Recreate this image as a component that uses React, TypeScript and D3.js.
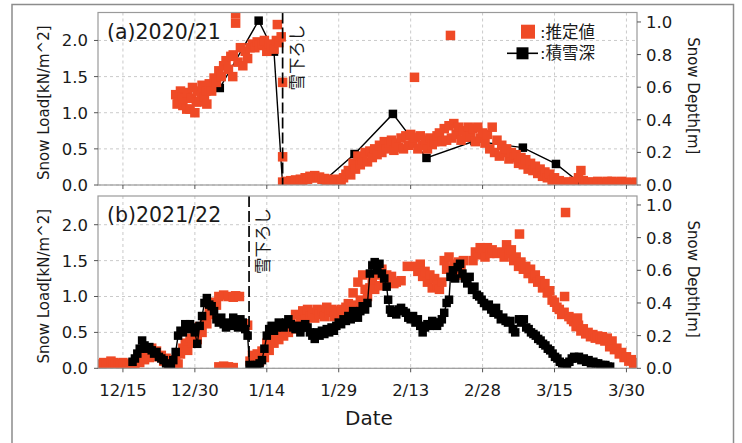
import * as d3 from "d3";

type Pt = [number, number];

// x is in days counted from 12/15
const tickDays = [0, 15, 30, 45, 60, 75, 90, 105];
const tickLabels = ["12/15", "12/30", "1/14", "1/29", "2/13", "2/28", "3/15", "3/30"];
const loadTicks = [0, 0.5, 1.0, 1.5, 2.0];
const depthTicks = [0, 0.2, 0.4, 0.6, 0.8, 1.0];

// (a) 2020/21 estimated snow load [kN/m^2]
const estA: Pt[] = [
  [11, 1.25], [11.3, 1.12], [11.5, 1.15], [12, 1.3], [12.3, 1.22], [12.5, 1.1], [13, 1.2], [13.3, 1.05],
  [13.5, 1.28], [14, 1.05], [14.3, 1.2], [14.5, 1.35], [15, 1.0], [15.3, 1.15], [15.5, 1.3], [16, 1.15],
  [16.3, 1.25], [16.5, 1.38], [17, 1.22], [17.3, 1.3], [17.5, 1.12], [18, 1.4], [18.5, 1.3],
  [19, 1.48], [19.5, 1.42], [20, 1.58], [20.5, 1.5], [21, 1.65], [21.5, 1.72], [22, 1.6], [22.5, 1.78],
  [22.9, 1.5], [23, 1.8], [23.5, 2.37], [23.5, 2.24], [24, 1.7], [24.5, 1.9], [25, 1.65], [25.5, 1.85],
  [26, 1.75], [26.5, 1.9], [27, 1.95], [27.5, 1.9], [28, 1.98], [28.5, 1.93], [29, 1.95], [29.5, 2.0],
  [30, 1.85], [30.5, 1.95], [31, 1.92], [31.5, 1.88], [32, 2.0], [32.2, 2.22], [32.5, 1.97], [33, 2.05],
  [33.3, 1.42], [33.3, 0.39], [33.3, 0.04],
  [33.6, 0.03], [34, 0.05], [34.5, 0.02], [35, 0.06], [35.5, 0.04], [36, 0.07], [36.5, 0.05], [37, 0.08],
  [37.5, 0.06], [38, 0.1], [38.5, 0.08], [39, 0.12], [39.5, 0.1], [40, 0.13], [40.5, 0.1], [41, 0.11],
  [41.5, 0.08], [42, 0.09], [42.5, 0.06], [43, 0.08], [43.5, 0.06], [44, 0.07], [44.5, 0.05], [45, 0.08],
  [45.5, 0.06], [46, 0.1], [46.5, 0.15], [47, 0.2], [47.5, 0.14], [48, 0.3], [48.5, 0.22], [49, 0.4],
  [49.5, 0.28], [50, 0.35], [50.5, 0.45], [51, 0.32], [51.5, 0.47], [52, 0.38], [52.5, 0.5], [53, 0.42],
  [53.5, 0.55], [54, 0.45], [54.5, 0.6], [55, 0.5], [55.5, 0.58], [56, 0.62], [56.5, 0.48], [57, 0.58],
  [57.5, 0.52], [58, 0.65], [58.5, 0.5], [59, 0.68], [59.5, 0.55], [60, 0.7], [60.5, 0.58], [61, 0.66],
  [61.5, 0.5], [62, 0.68], [62.5, 0.55], [63, 0.62], [63.5, 0.5], [64, 0.65], [64.5, 0.56], [65, 0.6],
  [65.5, 0.68], [66, 0.72], [66.5, 0.6], [67, 0.78], [67.5, 0.62], [68, 0.82], [68.5, 0.65], [69, 0.85],
  [69.5, 0.7], [70, 0.8], [70.5, 0.62], [71, 0.75], [71.5, 0.66], [72, 0.8], [72.5, 0.68], [73, 0.78],
  [73.5, 0.6], [74, 0.8], [74.5, 0.65], [75, 0.72], [75.5, 0.58], [76, 0.7], [76.5, 0.5], [77, 0.8],
  [77.5, 0.45], [78, 0.62], [78.5, 0.4], [79, 0.55], [79.5, 0.45], [80, 0.5], [80.5, 0.36], [81, 0.45],
  [81.5, 0.38], [82, 0.42], [82.5, 0.3], [83, 0.38], [83.5, 0.28], [84, 0.35], [84.5, 0.22], [85, 0.3],
  [85.5, 0.2], [86, 0.26], [86.5, 0.16], [87, 0.22], [87.5, 0.12], [88, 0.18], [88.5, 0.1], [89, 0.15],
  [89.5, 0.06], [90, 0.1], [90.5, 0.04], [91, 0.06], [91.5, 0.03], [92, 0.04], [92.5, 0.02], [93, 0.04],
  [93.5, 0.03], [94, 0.05], [95, 0.1], [95.5, 0.2], [96, 0.06], [96.5, 0.03], [97, 0.04], [98, 0.04],
  [99, 0.05], [100, 0.04], [101, 0.05], [102, 0.05], [103, 0.04], [104, 0.05], [105, 0.04], [106, 0.03],
  [107, 0.04],
  [60.8, 1.49], [68.3, 2.07],
];

// (a) 2020/21 measured snow depth [m]
const depthA: Pt[] = [
  [20.2, 0.595], [28.3, 1.008], [31.5, 0.818], [33.3, 0.0], [42.1, 0.03], [48.3, 0.19], [56.3, 0.436],
  [63.3, 0.166], [73.3, 0.27], [83.4, 0.229], [90.3, 0.129], [95, 0.02],
];

// (b) 2021/22 estimated snow load [kN/m^2]
const estB: Pt[] = [
  [-5, 0.06], [-4.5, 0.03], [-4, 0.08], [-3.5, 0.05], [-3, 0.07], [-2.5, 0.1], [-2, 0.08], [-1.5, 0.05],
  [-1, 0.07], [-0.5, 0.04], [0, 0.08], [0.5, 0.05], [1, 0.06], [1.5, 0.03], [2, 0.07], [2.5, 0.05],
  [3, 0.12], [3.5, 0.08], [4, 0.16], [4.5, 0.12], [5, 0.22], [5.5, 0.15], [6, 0.28], [6.5, 0.2],
  [7, 0.24], [7.5, 0.16], [8, 0.18], [8.5, 0.1], [9, 0.14], [9.5, 0.06], [10, 0.1], [10.5, 0.04],
  [11, 0.12], [11.5, 0.06], [12, 0.2], [12.5, 0.28], [13, 0.35], [13.5, 0.25], [14, 0.42], [14.5, 0.35],
  [15, 0.5], [15.5, 0.4], [16, 0.58], [16.5, 0.5], [17, 0.7], [17.5, 0.62], [18, 0.82], [18.5, 0.75],
  [19, 0.92], [19.5, 0.88], [20, 1.0], [21, 1.02], [22, 1.0], [23, 0.99], [23.5, 1.01], [24.3, 1.0],
  [20, 0.02], [21, 0.03], [22, 0.02], [23, 0.01],
  [25.3, 0.62], [26, 0.6], [26.5, 0.1],
  [27, 0.18], [27.5, 0.12], [28, 0.2], [28.5, 0.1], [29, 0.24], [29.5, 0.15], [30, 0.35], [30.5, 0.25],
  [31, 0.45], [31.5, 0.35], [32, 0.5], [32.5, 0.4], [33, 0.55], [33.5, 0.45], [34, 0.6], [34.5, 0.5],
  [35, 0.65], [35.5, 0.55], [36, 0.75], [36.5, 0.6], [37, 0.72], [37.5, 0.8], [38, 0.68], [38.5, 0.82],
  [39, 0.72], [39.5, 0.78], [40, 0.7], [40.5, 0.82], [41, 0.75], [41.5, 0.8], [42, 0.72], [42.5, 0.85],
  [43, 0.78], [43.5, 0.82], [44, 0.72], [44.5, 0.8], [45, 0.76], [45.5, 0.82], [46, 0.78], [46.5, 0.85],
  [47, 0.9], [47.5, 0.8], [48, 1.05], [48.5, 0.88], [49, 1.2], [49.5, 0.95], [50, 1.3], [50.5, 1.1],
  [51, 1.0], [51.5, 1.12], [52, 1.2], [52.5, 1.1], [53, 1.3], [53.5, 1.15], [54, 1.38], [54.5, 1.22],
  [55, 1.3], [55.5, 1.2], [56, 1.28], [56.5, 1.18], [57, 1.2], [58, 1.22], [59.3, 1.42],
  [61, 1.42], [61.5, 1.35], [62, 1.45], [62.5, 1.28], [63, 1.35], [63.5, 1.2], [64, 1.3], [64.5, 1.12],
  [65, 1.25], [65.5, 1.15], [66, 1.1], [66.5, 1.2], [67, 1.5], [67.5, 1.38], [68, 1.55], [68.5, 1.35],
  [69, 1.45], [69.5, 1.3], [70, 1.48], [70.5, 1.38], [71, 1.5], [73, 1.5], [73.5, 1.62], [74, 1.58],
  [74.5, 1.68], [75, 1.65], [75.5, 1.55], [76, 1.68], [76.5, 1.6], [77, 1.65], [78, 1.6], [79, 1.62],
  [79.5, 1.55], [80, 1.72], [80.5, 1.6], [81, 1.65], [81.5, 1.5], [82, 1.55], [82.5, 1.42], [82.7, 1.87],
  [83, 1.48], [83.5, 1.38], [84, 1.42], [84.5, 1.32], [85, 1.38], [85.5, 1.25], [86, 1.3], [86.5, 1.2],
  [87, 1.22], [87.5, 1.12], [88, 1.18], [88.5, 1.05], [89, 1.08], [89.5, 0.95], [90, 0.92], [90.5, 0.85],
  [91, 0.82], [91.5, 0.75], [92, 0.78], [92.1, 1.0], [92.3, 2.17], [93, 0.72], [93.5, 0.68], [94, 0.65],
  [94.5, 0.58], [94.8, 0.7], [95, 0.6], [95.5, 0.52], [96, 0.55], [96.5, 0.48], [97, 0.5], [97.5, 0.44],
  [98, 0.47], [98.5, 0.42], [99, 0.45], [99.5, 0.4], [100, 0.44], [100.5, 0.38], [101, 0.42], [101.5, 0.3],
  [102, 0.38], [102.5, 0.26], [103, 0.28], [103.5, 0.2], [104, 0.22], [104.5, 0.15], [105, 0.16],
  [105.5, 0.1], [106, 0.12], [106.5, 0.07], [107, 0.08],
];

// (b) 2021/22 measured snow depth [m]
const depthB: Pt[] = [
  [2, 0.04], [2.5, 0.06], [3, 0.09], [3.5, 0.12], [4, 0.17], [4.5, 0.14], [5, 0.12], [5.5, 0.13],
  [6, 0.11], [6.5, 0.09], [7, 0.1], [7.5, 0.07], [8, 0.06], [8.5, 0.05], [9, 0.03], [9.5, 0.02],
  [10, 0.02], [10.5, 0.05], [11, 0.1], [11.5, 0.2], [12, 0.23], [12.5, 0.22], [13, 0.27], [13.5, 0.24],
  [14, 0.27], [14.5, 0.25], [15, 0.22], [15.5, 0.15], [16, 0.26], [16.5, 0.32], [17, 0.4], [17.5, 0.43],
  [18, 0.39], [18.5, 0.38], [19, 0.35], [19.5, 0.3], [20, 0.28], [20.5, 0.31], [21, 0.27], [21.5, 0.25],
  [22, 0.28], [22.5, 0.26], [23, 0.31], [23.5, 0.29], [24, 0.25], [24.5, 0.3], [25, 0.28], [25.5, 0.24],
  [26, 0.2], [26.4, 0.02], [27, 0.01], [27.5, 0.02], [28, 0.02], [28.5, 0.03], [29, 0.05], [29.5, 0.12],
  [30, 0.2], [30.5, 0.24], [31, 0.26], [31.5, 0.23], [32, 0.25], [32.5, 0.28], [33, 0.27], [33.5, 0.25],
  [34, 0.28], [34.5, 0.3], [35, 0.27], [35.5, 0.25], [36, 0.24], [36.5, 0.26], [37, 0.22], [37.5, 0.25],
  [38, 0.27], [38.5, 0.25], [39, 0.22], [39.5, 0.2], [40, 0.18], [40.5, 0.22], [41, 0.2], [41.5, 0.23],
  [42, 0.21], [42.5, 0.24], [43, 0.22], [43.5, 0.25], [44, 0.23], [44.5, 0.26], [45, 0.28], [45.5, 0.27],
  [46, 0.3], [46.5, 0.29], [47, 0.32], [47.5, 0.3], [48, 0.35], [48.5, 0.33], [49, 0.31], [49.5, 0.35],
  [50, 0.38], [50.5, 0.36], [51, 0.4], [51.5, 0.58], [52, 0.63], [52.5, 0.65], [53, 0.6], [53.5, 0.64],
  [54, 0.58], [54.5, 0.55], [55, 0.5], [55.3, 0.42], [55.7, 0.36], [56, 0.34], [56.5, 0.35], [57, 0.33],
  [57.5, 0.36], [58, 0.37], [58.5, 0.35], [59, 0.34], [59.5, 0.31], [60, 0.3], [60.5, 0.32], [61, 0.28],
  [61.5, 0.3], [62, 0.26], [62.5, 0.22], [63, 0.25], [63.5, 0.27], [64, 0.26], [64.5, 0.29], [65, 0.28],
  [65.5, 0.26], [66, 0.28], [66.5, 0.3], [67, 0.34], [67.5, 0.4], [68, 0.42], [68.3, 0.56], [68.8, 0.6],
  [69.3, 0.55], [69.8, 0.62], [70.3, 0.64], [70.8, 0.58], [71.3, 0.55], [71.8, 0.52], [72.3, 0.56],
  [72.8, 0.48], [73.3, 0.5], [73.8, 0.45], [74.3, 0.44], [74.8, 0.42], [75.3, 0.4], [75.8, 0.38],
  [76.3, 0.39], [76.8, 0.36], [77.3, 0.34], [77.8, 0.37], [78.3, 0.33], [78.8, 0.3], [79.3, 0.31],
  [79.8, 0.29], [80.3, 0.28], [80.8, 0.29], [81.3, 0.24], [81.8, 0.22], [82.6, 0.3], [83.1, 0.28],
  [83.6, 0.3], [84.1, 0.25], [84.6, 0.24], [85.1, 0.22], [85.6, 0.21], [86.1, 0.2], [86.6, 0.18],
  [87.1, 0.17], [87.6, 0.15], [88.1, 0.14], [88.6, 0.12], [89.1, 0.11], [89.6, 0.09], [90.1, 0.07],
  [90.6, 0.06], [91.1, 0.04], [91.6, 0.03], [92.1, 0.03], [92.6, 0.02], [93.1, 0.04], [93.6, 0.06],
  [94.1, 0.07], [94.6, 0.06], [95.1, 0.07], [95.6, 0.05], [96.1, 0.06], [96.6, 0.04], [97.1, 0.05],
  [97.6, 0.03], [98.1, 0.04], [98.6, 0.03], [99.1, 0.03], [99.6, 0.02], [100.1, 0.02], [100.6, 0.02],
  [101.1, 0.01], [101.6, 0.01],
];

const removalA = 33.3;
const removalB = 26.3;

const ORANGE = "#ef4a26";
const SPINE = "#9a9a9a";
const TEXT = "#1a1a1a";
const FONT = "'DejaVu Sans', 'Noto Sans CJK JP', sans-serif";

const x = d3.scaleLinear().domain([-5.2, 107.2]).range([98, 637]);

function Panel({ id, top, bottom, loadMax, depthMax, est, depth, removal, title, estOnTop, showXLabels, legend }) {
  const yL = d3.scaleLinear().domain([0, loadMax]).range([bottom, top]);
  const yR = d3.scaleLinear().domain([0, depthMax]).range([bottom, top]);
  const [x0, x1] = x.range();
  const line = d3.line<Pt>().x((d) => x(d[0])).y((d) => yR(d[1]));
  const ms = 9.5; // orange marker
  const bs = 8.5; // black marker
  const mid = (top + bottom) / 2;

  const estMarks = (
    <g fill={ORANGE}>
      {est.map((d, i) => (
        <rect key={i} x={x(d[0]) - ms / 2} y={yL(d[1]) - ms / 2} width={ms} height={ms} />
      ))}
    </g>
  );
  const depthMarks = (
    <g>
      <path d={line(depth) || ""} fill="none" stroke="#000" strokeWidth={1.4} />
      {depth.map((d, i) => (
        <rect key={i} x={x(d[0]) - bs / 2} y={yR(d[1]) - bs / 2} width={bs} height={bs} fill="#000" />
      ))}
    </g>
  );

  return (
    <g>
      <defs>
        <clipPath id={id}>
          <rect x={x0} y={top} width={x1 - x0} height={bottom - top} />
        </clipPath>
      </defs>
      {/* grid */}
      <g stroke="#c4c4c4" strokeWidth={0.9} strokeDasharray="3,3">
        {tickDays.map((t) => (
          <line key={t} x1={x(t)} x2={x(t)} y1={top} y2={bottom} />
        ))}
        {loadTicks.map((t) => (
          <line key={t} x1={x0} x2={x1} y1={yL(t)} y2={yL(t)} />
        ))}
      </g>
      <g clipPath={`url(#${id})`}>
        {estOnTop ? depthMarks : estMarks}
        {estOnTop ? estMarks : depthMarks}
        <line x1={x(removal)} x2={x(removal)} y1={top} y2={bottom} stroke="#000" strokeWidth={1.7} strokeDasharray="11,4" />
      </g>
      <text
        transform={`translate(${x(removal) + 20},${top + 78}) rotate(-90)`}
        fontSize={16.5}
        fill={TEXT}
      >
        雪下ろし
      </text>
      <text x={107} y={top + 26} fontSize={20.5} fill={TEXT}>
        {title}
      </text>
      {/* spines */}
      <rect x={x0} y={top} width={x1 - x0} height={bottom - top} fill="none" stroke={SPINE} strokeWidth={1.2} />
      {/* ticks */}
      <g stroke="#555" strokeWidth={1}>
        {loadTicks.map((t) => (
          <line key={t} x1={x0 - 4} x2={x0} y1={yL(t)} y2={yL(t)} />
        ))}
        {depthTicks.map((t) => (
          <line key={t} x1={x1} x2={x1 + 4} y1={yR(t)} y2={yR(t)} />
        ))}
        {tickDays.map((t) => (
          <line key={t} x1={x(t)} x2={x(t)} y1={bottom} y2={bottom + 4} />
        ))}
      </g>
      <g fontSize={16.5} fill={TEXT}>
        {loadTicks.map((t) => (
          <text key={t} x={88} y={yL(t)} dy="0.36em" textAnchor="end">
            {d3.format(".1f")(t)}
          </text>
        ))}
        {depthTicks.map((t) => (
          <text key={t} x={646} y={yR(t)} dy="0.36em">
            {d3.format(".1f")(t)}
          </text>
        ))}
        {showXLabels &&
          tickDays.map((t, i) => (
            <text key={t} x={x(t)} y={396} textAnchor="middle">
              {tickLabels[i]}
            </text>
          ))}
      </g>
      <text transform={`translate(48.5,${mid + 4}) rotate(-90)`} textAnchor="middle" fontSize={15} fill={TEXT}>
        Snow Load[kN/m^2]
      </text>
      <text transform={`translate(688,${mid - 3}) rotate(90)`} textAnchor="middle" fontSize={15} fill={TEXT}>
        Snow Depth[m]
      </text>
      {legend && (
        <g fontSize={16.5} fill={TEXT}>
          <rect x={528 - 7} y={31.7 - 7} width={14} height={14} fill={ORANGE} />
          <text x={540} y={37.5}>:推定値</text>
          <line x1={507} x2={538} y1={53.3} y2={53.3} stroke="#000" strokeWidth={1.6} />
          <rect x={522.5 - 6} y={53.3 - 6} width={12} height={12} fill="#000" />
          <text x={540} y={59}>:積雪深</text>
        </g>
      )}
    </g>
  );
}

export default function App() {
  return (
    <div style={{ position: "absolute", left: 0, top: 0 }}>
      <svg width={742} height={443} style={{ display: "block", background: "#fff" }} fontFamily={FONT}>
        <rect x={12} y={4.5} width={721.5} height={460} fill="none" stroke="#8c8c8c" strokeWidth={1.5} />
        <Panel
          id="clipA"
          top={12.5}
          bottom={185}
          loadMax={2.387}
          depthMax={1.058}
          est={estA}
          depth={depthA}
          removal={removalA}
          title="(a)2020/21"
          estOnTop={true}
          showXLabels={false}
          legend={true}
        />
        <Panel
          id="clipB"
          top={196}
          bottom={368.3}
          loadMax={2.4}
          depthMax={1.055}
          est={estB}
          depth={depthB}
          removal={removalB}
          title="(b)2021/22"
          estOnTop={false}
          showXLabels={true}
          legend={false}
        />
        <text x={369} y={425} textAnchor="middle" fontSize={20} fill={TEXT}>
          Date
        </text>
      </svg>
    </div>
  );
}
